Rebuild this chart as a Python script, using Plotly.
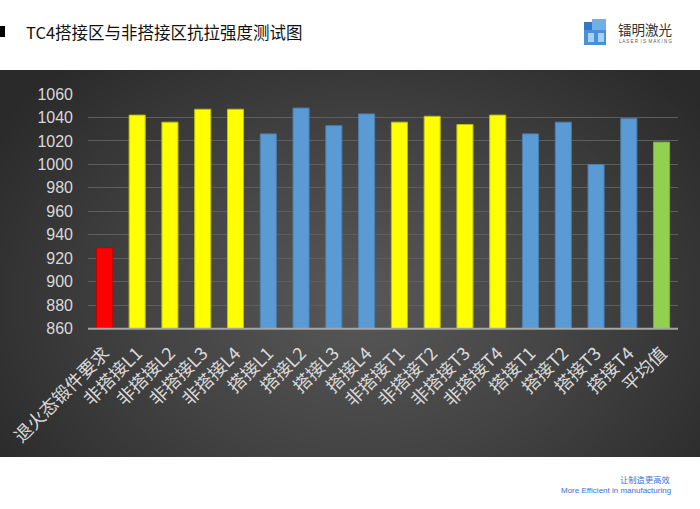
import numpy as np
import plotly.graph_objects as go

# ---------------- data ----------------
categories = ["退火态锻件要求", "非搭接L1", "非搭接L2", "非搭接L3", "非搭接L4",
              "搭接L1", "搭接L2", "搭接L3", "搭接L4",
              "非搭接T1", "非搭接T2", "非搭接T3", "非搭接T4",
              "搭接T1", "搭接T2", "搭接T3", "搭接T4", "平均值"]
strength = [929, 1042, 1036, 1047, 1047,
            1026, 1048, 1033, 1043,
            1036, 1041, 1034, 1042,
            1026, 1036, 1000, 1039, 1019]
groups = ["req", "non", "non", "non", "non",
          "lap", "lap", "lap", "lap",
          "non", "non", "non", "non",
          "lap", "lap", "lap", "lap", "avg"]
y_ticks = list(range(860, 1061, 20))

# ---------------- styles ----------------
fill = {"req": "#ff0000", "non": "#ffff00", "lap": "#5b9bd5", "avg": "#92d050"}
edge = {"req": "#c00000", "non": "#bfbf00", "lap": "#4a7fb0", "avg": "#78b040"}

W, H = 700, 509
panel_top, panel_bot = 70, 457
plot_l, plot_r = 88, 678
plot_top, plot_bot = 94, 328.7

def py(v):
    return (H - v) / H

fig = go.Figure()

# radial gradient background for the dark panel (decoration)
gx = np.linspace(0, 700, 71)
gy = np.linspace(0, 387, 40)
X, Y = np.meshgrid(gx, gy)
d = np.sqrt(((X - 360) / 430) ** 2 + ((Y - 230) / 320) ** 2)
fig.add_trace(go.Heatmap(
    x=gx, y=gy, z=np.clip(d, 0, 1), zmin=0, zmax=1,
    colorscale=[[0, "#585858"], [0.5, "#434343"], [1, "#2a2a2a"]],
    showscale=False, zsmooth="best", hoverinfo="skip",
    xaxis="x", yaxis="y"))

fig.add_trace(go.Bar(
    x=categories, y=[v - 860 for v in strength], base=860,
    marker=dict(color=[fill[g] for g in groups],
                line=dict(color=[edge[g] for g in groups], width=1)),
    width=0.49, xaxis="x2", yaxis="y2", hoverinfo="x+y"))

fig.update_layout(
    width=W, height=H, margin=dict(l=0, r=0, t=0, b=0, autoexpand=False),
    paper_bgcolor="white", plot_bgcolor="rgba(0,0,0,0)",
    showlegend=False,
    xaxis=dict(domain=[0, 1], range=[0, 700], visible=False, fixedrange=True,
               automargin=False),
    yaxis=dict(domain=[py(panel_bot), py(panel_top)], range=[387, 0],
               visible=False, fixedrange=True, automargin=False),
    xaxis2=dict(domain=[plot_l / W, plot_r / W], anchor="y2",
                range=[-0.5, len(categories) - 0.5], automargin=False,
                tickangle=-45, showgrid=False, showline=False,
                ticks="outside", ticklen=6, tickcolor="rgba(0,0,0,0)",
                tickfont=dict(family="Noto Sans CJK SC", size=18, color="#d9d9d9")),
    yaxis2=dict(domain=[py(plot_bot), py(plot_top)], anchor="x2",
                range=[860, 1060], tickvals=y_ticks, automargin=False,
                showgrid=True, gridcolor="#5e5e5e", gridwidth=1,
                zeroline=False, showline=False, ticks="",
                ticklabelstandoff=14,
                tickfont=dict(family="Liberation Sans", size=16, color="#d9d9d9")),
    font=dict(family="Noto Sans CJK SC"),
)

# x baseline of the chart
fig.add_shape(type="line", xref="paper", yref="paper",
              x0=plot_l / W, x1=plot_r / W, y0=py(plot_bot), y1=py(plot_bot),
              line=dict(color="#a6a6a6", width=2))

# title bullet and title
fig.add_shape(type="rect", xref="paper", yref="paper",
              x0=0, x1=5 / W, y0=py(37), y1=py(26),
              fillcolor="#000000", line=dict(width=0))
fig.add_annotation(text="TC4搭接区与非搭接区抗拉强度测试图", xref="paper", yref="paper",
                   x=24 / W, y=py(32), xanchor="left", yanchor="middle",
                   showarrow=False,
                   font=dict(family="Noto Sans CJK SC", size=16.5, color="#111111"))

# logo (simplified cube icon)
for (x0, y0, x1, y1, c) in [(584, 27, 606, 45, "#4a90d9"),
                            (592, 19, 606, 30, "#6fb0ea"),
                            (584, 22, 592, 30, "#2f79c8"),
                            (588, 33, 594, 42, "#a8d0f2"),
                            (598, 33, 604, 42, "#a8d0f2")]:
    fig.add_shape(type="rect", xref="paper", yref="paper",
                  x0=x0 / W, x1=x1 / W, y0=py(y1), y1=py(y0),
                  fillcolor=c, line=dict(width=0))
fig.add_annotation(text="镭明激光", xref="paper", yref="paper",
                   x=616 / W, y=py(29), xanchor="left", yanchor="middle",
                   showarrow=False,
                   font=dict(family="Noto Sans CJK SC", size=13.5, color="#333333"))
fig.add_annotation(text="L A S E R  I S  M A K I N G", xref="paper", yref="paper",
                   x=617 / W, y=py(42), xanchor="left", yanchor="middle",
                   showarrow=False,
                   font=dict(family="Liberation Sans", size=4.5, color="#555555"))

# footer
fig.add_annotation(text="让制造更高效", xref="paper", yref="paper",
                   x=672 / W, y=py(479), xanchor="right", yanchor="middle",
                   showarrow=False,
                   font=dict(family="Noto Sans CJK SC", size=8.3, color="#3a6fd8"))
fig.add_annotation(text="More Efficient in manufacturing", xref="paper", yref="paper",
                   x=673 / W, y=py(490), xanchor="right", yanchor="middle",
                   showarrow=False,
                   font=dict(family="Liberation Sans", size=8, color="#3a6fd8"))

fig.write_html("out.html")
